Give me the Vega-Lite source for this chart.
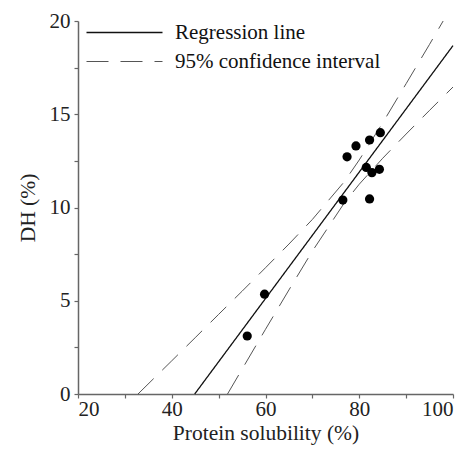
{
  "$schema": "https://vega.github.io/schema/vega-lite/v6.json",
  "width": 375,
  "height": 373,
  "autosize": "none",
  "padding": {"left": 78, "top": 21, "right": 20, "bottom": 58},
  "background": "white",
  "config": {
    "view": {"stroke": null},
    "font": "'Liberation Serif', 'DejaVu Serif', serif",
    "text": {"font": "'Liberation Serif', 'DejaVu Serif', serif"},
    "axis": {
      "domainColor": "#666666",
      "domainWidth": 1.5,
      "tickColor": "#666666",
      "tickWidth": 1.2,
      "tickSize": 4,
      "grid": false,
      "labelFont": "'Liberation Serif', 'DejaVu Serif', serif",
      "labelFontSize": 21,
      "labelColor": "#222222",
      "titleFont": "'Liberation Serif', 'DejaVu Serif', serif",
      "titleFontSize": 21.5,
      "titleFontWeight": "normal",
      "titleColor": "#222222"
    }
  },
  "datasets": {
    "lines": [
      {"x": 44.9, "y": 0, "series": "Regression line", "band": "fit"},
      {"x": 100, "y": 18.68, "series": "Regression line", "band": "fit"},
      {"x": 32.8, "y": 0.0, "series": "95% confidence interval", "band": "upper"},
      {"x": 40, "y": 1.78, "series": "95% confidence interval", "band": "upper"},
      {"x": 45, "y": 3.02, "series": "95% confidence interval", "band": "upper"},
      {"x": 50, "y": 4.27, "series": "95% confidence interval", "band": "upper"},
      {"x": 55, "y": 5.51, "series": "95% confidence interval", "band": "upper"},
      {"x": 60, "y": 6.77, "series": "95% confidence interval", "band": "upper"},
      {"x": 65, "y": 8.04, "series": "95% confidence interval", "band": "upper"},
      {"x": 70, "y": 9.36, "series": "95% confidence interval", "band": "upper"},
      {"x": 76.8, "y": 11.38, "series": "95% confidence interval", "band": "upper"},
      {"x": 80, "y": 12.55, "series": "95% confidence interval", "band": "upper"},
      {"x": 85, "y": 14.54, "series": "95% confidence interval", "band": "upper"},
      {"x": 90, "y": 16.64, "series": "95% confidence interval", "band": "upper"},
      {"x": 95, "y": 18.75, "series": "95% confidence interval", "band": "upper"},
      {"x": 97.9, "y": 20.0, "series": "95% confidence interval", "band": "upper"},
      {"x": 51.9, "y": 0.0, "series": "95% confidence interval", "band": "lower"},
      {"x": 55, "y": 1.33, "series": "95% confidence interval", "band": "lower"},
      {"x": 60, "y": 3.47, "series": "95% confidence interval", "band": "lower"},
      {"x": 65, "y": 5.58, "series": "95% confidence interval", "band": "lower"},
      {"x": 70, "y": 7.66, "series": "95% confidence interval", "band": "lower"},
      {"x": 76.8, "y": 10.24, "series": "95% confidence interval", "band": "lower"},
      {"x": 80, "y": 11.25, "series": "95% confidence interval", "band": "lower"},
      {"x": 85, "y": 12.64, "series": "95% confidence interval", "band": "lower"},
      {"x": 90, "y": 13.94, "series": "95% confidence interval", "band": "lower"},
      {"x": 95, "y": 15.21, "series": "95% confidence interval", "band": "lower"},
      {"x": 100, "y": 16.46, "series": "95% confidence interval", "band": "lower"}
    ],
    "points": [
      {"x": 56.1, "y": 3.11},
      {"x": 59.8, "y": 5.35},
      {"x": 76.5, "y": 10.4},
      {"x": 77.4, "y": 12.72},
      {"x": 79.3, "y": 13.3},
      {"x": 81.5, "y": 12.15},
      {"x": 82.2, "y": 13.62},
      {"x": 82.2, "y": 10.46},
      {"x": 82.7, "y": 11.87},
      {"x": 84.3, "y": 12.05},
      {"x": 84.5, "y": 14.01}
    ]
  },
  "layer": [
    {
      "data": {"name": "lines"},
      "mark": {"type": "line"},
      "encoding": {
        "x": {
          "field": "x", "type": "quantitative",
          "scale": {"domain": [20, 100], "nice": false},
          "axis": {
            "title": "Protein solubility (%)",
            "values": [20, 30, 40, 50, 60, 70, 80, 90, 100],
            "labelExpr": "datum.value % 20 == 0 ? datum.label : ''",
            "labelPadding": 0,
            "titlePadding": 3
          }
        },
        "y": {
          "field": "y", "type": "quantitative",
          "scale": {"domain": [0, 20], "nice": false},
          "axis": {
            "title": "DH (%)",
            "values": [0, 2.5, 5, 7.5, 10, 12.5, 15, 17.5, 20],
            "labelExpr": "datum.value % 5 == 0 ? datum.label : ''",
            "labelPadding": 4,
            "titlePadding": 10
          }
        },
        "color": {
          "field": "series", "type": "nominal",
          "scale": {"domain": ["Regression line", "95% confidence interval"], "range": ["#111111", "#555555"]},
          "legend": {
            "title": null,
            "orient": "none",
            "legendX": 36,
            "legendY": 1,
            "symbolType": "M-4,0H4",
            "symbolSize": 361,
            "symbolStrokeWidth": 1.2,
            "labelFont": "'Liberation Serif', 'DejaVu Serif', serif",
            "labelFontSize": 21,
            "labelColor": "#111111",
            "labelLimit": 400,
            "labelOffset": 40,
            "rowPadding": 7,
            "padding": 0
          }
        },
        "strokeDash": {
          "field": "series", "type": "nominal",
          "scale": {"domain": ["Regression line", "95% confidence interval"], "range": [[1, 0], [22, 12]]},
          "legend": null
        },
        "strokeWidth": {
          "field": "series", "type": "nominal",
          "scale": {"domain": ["Regression line", "95% confidence interval"], "range": [1.3, 1]},
          "legend": null
        },
        "detail": {"field": "band"}
      }
    },
    {
      "data": {"name": "points"},
      "mark": {"type": "circle", "color": "black", "opacity": 1, "size": 85},
      "encoding": {
        "x": {"field": "x", "type": "quantitative"},
        "y": {"field": "y", "type": "quantitative"}
      }
    }
  ]
}
